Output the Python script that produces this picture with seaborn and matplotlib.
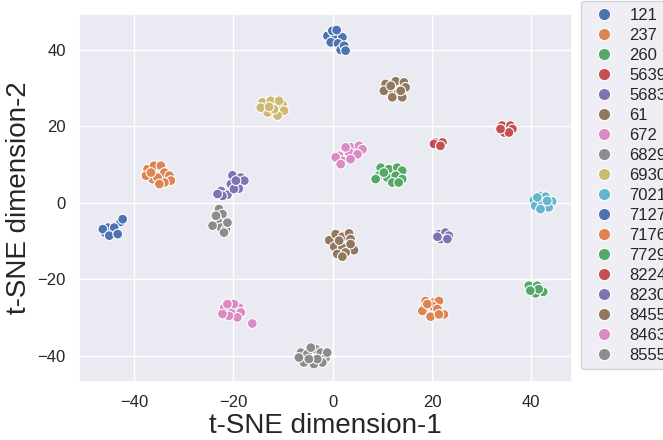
import matplotlib
matplotlib.use("Agg")
import matplotlib.pyplot as plt
import seaborn as sns
import pandas as pd

# ---- data: t-SNE coordinates per label ----
labels = ["121", "237", "260", "5639", "5683", "61", "672", "6829", "6930",
          "7021", "7127", "7176", "7729", "8224", "8230", "8455", "8463", "8555"]

pts_121 = [(-1.07, 43.7), (0.47, 43.5), (1.95, 43.3), (-0.4, 42.0), (1.07, 41.7),
           (1.6, 40.0), (2.3, 41.1), (-0.07, 45.0), (0.8, 45.2), (2.6, 39.8)]
pts_237 = [(-37.3, 8.8), (-36.0, 9.7), (-34.6, 9.7), (-33.9, 7.9), (-32.9, 7.1),
           (-32.6, 5.8), (-33.9, 5.3), (-36.3, 6.2), (-37.6, 7.1), (-35.3, 6.6),
           (-34.9, 4.9), (-36.6, 7.9)]
pts_260 = [(9.66, 9.2), (11.33, 8.8), (13.0, 9.2), (14.0, 8.4), (9.3, 7.1),
           (11.0, 6.6), (12.7, 7.1), (14.0, 6.2), (8.65, 6.2), (12.0, 5.3),
           (13.3, 5.3), (10.3, 7.9)]
pts_5639 = [(21.4, 15.2), (20.7, 15.8), (22.1, 15.8), (20.4, 15.4), (21.7, 14.9)]
pts_5683 = [(-20.2, 7.2), (-18.5, 6.6), (-17.8, 5.8), (-20.5, 4.9), (-18.9, 3.7),
            (-22.5, 3.1), (-21.2, 2.1), (-22.2, 1.8), (-19.9, 3.6), (-23.2, 2.3),
            (-19.5, 5.8)]
pts_61 = [(10.66, 31.1), (12.68, 31.8), (14.35, 31.5), (14.69, 30.2), (11.33, 28.9),
          (13.0, 28.4), (14.0, 27.6), (12.0, 27.6), (10.3, 29.3), (13.7, 29.3),
          (11.7, 30.6)]
pts_672 = [(3.6, 14.5), (5.3, 14.9), (6.0, 14.0), (3.3, 13.2), (5.0, 12.7),
           (1.3, 12.3), (1.95, 11.0), (3.6, 11.4), (2.6, 14.5), (0.6, 11.9),
           (1.6, 10.1)]
pts_6829 = [(-22.9, -1.65), (-22.2, -2.96), (-23.2, -4.7), (-22.5, -6.5), (-21.5, -6.9),
            (-24.2, -6.0), (-21.2, -5.2), (-23.5, -3.4), (-21.9, -7.8)]
pts_6930 = [(-14.15, 26.3), (-12.47, 26.7), (-10.1, 25.7), (-9.8, 24.1), (-11.1, 22.8),
            (-13.1, 23.6), (-14.5, 24.9), (-11.8, 24.5), (-10.8, 26.7), (-12.8, 25.1)]
pts_7021 = [(40.5, 0.7), (41.65, 1.8), (42.9, 1.6), (44.2, 0.35), (40.8, -0.8),
            (42.2, 0.1), (43.5, -1.2), (41.85, -1.65), (43.2, 0.5), (41.2, 1.4)]
pts_7127 = [(-44.8, -7.8), (-45.9, -7.8), (-43.7, -7.5), (-42.7, -5.0), (-45.3, -6.5),
            (-44.0, -6.5), (-46.3, -6.9), (-45.0, -8.6), (-43.3, -8.2), (-42.3, -4.3)]
pts_7176 = [(18.7, -25.7), (20.4, -26.1), (21.4, -25.7), (18.4, -27.6), (20.1, -27.0),
            (21.1, -27.8), (22.4, -29.2), (19.7, -29.8), (18.05, -28.3), (21.4, -29.2),
            (19.05, -26.5)]
pts_7729 = [(40.3, -22.4), (39.5, -21.7), (41.2, -21.7), (42.4, -23.3), (40.85, -23.7),
            (41.5, -22.6), (39.8, -23.0)]
pts_8224 = [(34.8, 19.5), (34.1, 20.2), (35.8, 20.2), (36.2, 19.3), (34.5, 18.4),
            (35.5, 18.4), (33.8, 19.3)]
pts_8230 = [(22.1, -8.6), (21.4, -8.2), (22.7, -7.8), (23.4, -8.6), (21.7, -9.5),
            (23.1, -9.5), (21.1, -8.9)]
pts_8455 = [(-0.7, -9.8), (0.6, -8.2), (1.95, -8.9), (3.3, -8.0), (3.6, -9.5),
            (0.3, -11.5), (1.95, -11.7), (4.3, -12.4), (2.6, -13.0), (0.9, -13.4),
            (1.95, -14.1), (3.6, -10.8), (1.3, -9.9)]
pts_8463 = [(-21.9, -27.6), (-20.2, -28.3), (-18.85, -27.4), (-18.5, -28.7), (-19.2, -30.0),
            (-20.9, -29.6), (-22.2, -29.1), (-19.9, -26.5), (-21.2, -26.5), (-16.2, -31.6)]
pts_8555 = [(-6.4, -39.2), (-5.1, -39.6), (-3.4, -38.3), (-2.4, -39.2), (-1.4, -40.5),
            (-2.1, -41.8), (-3.8, -42.2), (-5.8, -41.8), (-6.8, -40.5), (-4.4, -37.9),
            (-3.1, -40.9), (-4.8, -40.9), (-1.1, -39.2)]

clusters = [pts_121, pts_237, pts_260, pts_5639, pts_5683, pts_61, pts_672, pts_6829,
            pts_6930, pts_7021, pts_7127, pts_7176, pts_7729, pts_8224, pts_8230,
            pts_8455, pts_8463, pts_8555]

rows = []
for lab, pts in zip(labels, clusters):
    for x, y in pts:
        rows.append({"x": x, "y": y, "label": lab})
df = pd.DataFrame(rows)

# ---- plot ----
sns.set_theme(style="darkgrid")
plt.rcParams["font.family"] = ["Liberation Sans", "DejaVu Sans"]

fig = plt.figure(figsize=(6.63, 4.40), dpi=100)
ax = fig.add_axes([79 / 663, 1 - 382 / 440, (572 - 79) / 663, (382 - 14) / 440])

sns.scatterplot(data=df, x="x", y="y", hue="label", hue_order=labels,
                palette=sns.color_palette("deep", len(labels)), s=50,
                edgecolor="white", linewidth=0.8, ax=ax)

ax.set_xlim(-51.1, 48.2)
ax.set_ylim(-46.9, 49.4)
ax.set_xticks([-40, -20, 0, 20, 40])
ax.set_yticks([-40, -20, 0, 20, 40])
ax.tick_params(labelsize=12)
ax.set_xlabel("t-SNE dimension-1", fontsize=20, labelpad=2)
ax.set_ylabel("t-SNE dimension-2", fontsize=20)

ax.legend(loc="upper left", bbox_to_anchor=(581 / 663, 439 / 440),
          bbox_transform=fig.transFigure, borderaxespad=0, fontsize=12,
          labelspacing=0.3, markerscale=1.25, handletextpad=0.5)

fig.savefig("out.png", dpi=100)
